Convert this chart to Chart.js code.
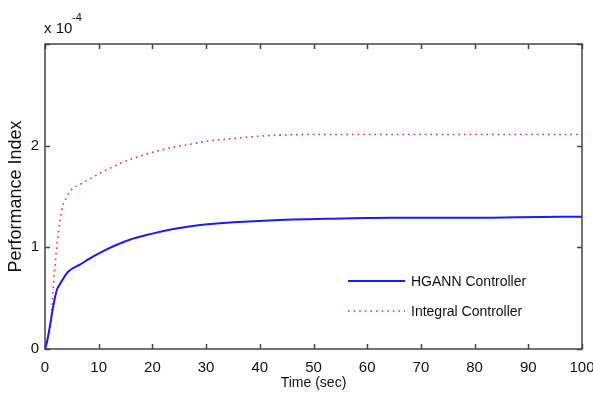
<!DOCTYPE html>
<html>
<head>
<meta charset="utf-8">
<script src="https://cdn.jsdelivr.net/npm/chart.js@4"></script>
<style>
  html, body { margin: 0; padding: 0; background: #fff; }
  #wrap { width: 593px; height: 402px; }
</style>
</head>
<body>
<div id="wrap"><canvas id="perfChart" width="593" height="402"></canvas></div>
<script>
// values are in units of 1e-4 (axis shows "x 10^-4")
const hgannTime = [0, 0.2, 0.9, 1.5, 2.2, 2.8, 4.3, 6.5, 9, 11.5, 13.6, 15.5, 19.6, 23.9, 28.2, 32, 36, 41.7, 52.3, 65, 80, 96, 100];
const hgannValue = [0, 0.03, 0.22, 0.41, 0.58, 0.64, 0.76, 0.83, 0.91, 0.98, 1.03, 1.07, 1.13, 1.18, 1.215, 1.235, 1.25, 1.265, 1.28, 1.29, 1.29, 1.30, 1.30];

const integralTime = [0, 0.3, 1.05, 1.5, 2.0, 2.3, 2.8, 3.3, 3.9, 4.8, 6.9, 8.9, 11, 14.2, 17.3, 20.4, 23.5, 26.6, 29.7, 33, 37, 42, 51.5, 70, 100];
const integralValue = [0, 0.07, 0.25, 0.58, 0.9, 1.05, 1.26, 1.41, 1.48, 1.56, 1.63, 1.69, 1.75, 1.83, 1.89, 1.94, 1.98, 2.01, 2.04, 2.06, 2.08, 2.10, 2.11, 2.11, 2.11];

const xTicks = [0, 10, 20, 30, 40, 50, 60, 70, 80, 90, 100];
const yTicks = [0, 1, 2, 3];
const yLabels = ['0', '1', '2', ''];

const FONT = '"Liberation Sans", Arial, Helvetica, sans-serif';

const toPoints = (xs, ys) => xs.map((x, i) => ({ x: x, y: ys[i] }));

// draws the matlab style box, inward ticks, exponent and legend
const matlabBox = {
    id: 'matlabBox',
    afterDraw(chart) {
        const ctx = chart.ctx;
        const area = chart.chartArea;
        const xs = chart.scales.x;
        const ys = chart.scales.y;
        ctx.save();
        ctx.strokeStyle = '#444';
        ctx.lineWidth = 1.5;
        ctx.strokeRect(area.left, area.top, area.right - area.left, area.bottom - area.top);

        ctx.beginPath();
        const tl = 5;
        xTicks.forEach(v => {
            const px = Math.round(xs.getPixelForValue(v)) + 0.5;
            ctx.moveTo(px, area.bottom); ctx.lineTo(px, area.bottom - tl);
            ctx.moveTo(px, area.top); ctx.lineTo(px, area.top + tl);
        });
        yTicks.forEach(v => {
            const py = Math.round(ys.getPixelForValue(v)) + 0.5;
            ctx.moveTo(area.left, py); ctx.lineTo(area.left + tl, py);
            ctx.moveTo(area.right, py); ctx.lineTo(area.right - tl, py);
        });
        ctx.stroke();

        // exponent label
        ctx.fillStyle = '#111';
        ctx.textBaseline = 'alphabetic';
        ctx.textAlign = 'left';
        ctx.font = '15px ' + FONT;
        ctx.fillText('x 10', area.left - 1, 33);
        ctx.font = '11px ' + FONT;
        ctx.fillText('-4', area.left + 27, 21);

        // legend (inside plot, lower right, no frame)
        const items = chart.data.datasets;
        const lx1 = 348, lx2 = 405, rowY = [281, 311];
        items.forEach((ds, i) => {
            ctx.strokeStyle = ds.borderColor;
            ctx.lineWidth = ds.borderWidth;
            ctx.setLineDash(ds.borderDash || []);
            ctx.beginPath();
            ctx.moveTo(lx1, rowY[i]);
            ctx.lineTo(lx2, rowY[i]);
            ctx.stroke();
            ctx.setLineDash([]);
            ctx.fillStyle = '#111';
            ctx.font = '14px ' + FONT;
            ctx.textBaseline = 'middle';
            ctx.fillText(ds.label, 411, rowY[i] + 1);
        });
        ctx.restore();
    }
};

const chart = new Chart(document.getElementById('perfChart'), {
    type: 'line',
    data: {
        datasets: [
            {
                label: 'HGANN Controller',
                data: toPoints(hgannTime, hgannValue),
                borderColor: '#1a1aff',
                borderWidth: 2,
                pointRadius: 0,
                cubicInterpolationMode: 'monotone',
                fill: false
            },
            {
                label: 'Integral Controller',
                data: toPoints(integralTime, integralValue),
                borderColor: '#ff3030',
                borderWidth: 1.6,
                borderDash: [1.6, 4],
                pointRadius: 0,
                cubicInterpolationMode: 'monotone',
                fill: false
            }
        ]
    },
    options: {
        responsive: false,
        animation: false,
        layout: { padding: { top: 44, right: 0, left: 0, bottom: 0 } },
        plugins: { legend: { display: false }, tooltip: { enabled: false } },
        scales: {
            x: {
                type: 'linear',
                min: 0,
                max: 100,
                afterBuildTicks: s => { s.ticks = xTicks.map(v => ({ value: v })); },
                afterFit: s => { s.height = 53; s.paddingRight = 11; s.paddingLeft = 0; },
                grid: { display: false, drawTicks: false },
                border: { display: false },
                ticks: { color: '#111', padding: 10, maxRotation: 0, font: { family: FONT, size: 15 } },
                title: {
                    display: true,
                    text: 'Time (sec)',
                    color: '#111',
                    padding: { top: 0, bottom: 10 },
                    font: { family: FONT, size: 14 }
                }
            },
            y: {
                type: 'linear',
                min: 0,
                max: 3,
                afterBuildTicks: s => { s.ticks = yTicks.map(v => ({ value: v })); },
                afterFit: s => { s.width = 45; },
                grid: { display: false, drawTicks: false },
                border: { display: false },
                ticks: {
                    color: '#111',
                    padding: 6,
                    font: { family: FONT, size: 15 },
                    callback: (v) => yLabels[yTicks.indexOf(v)] ?? ''
                },
                title: {
                    display: true,
                    text: 'Performance Index',
                    color: '#111',
                    padding: { top: 5, bottom: 0 },
                    font: { family: FONT, size: 18 }
                }
            }
        }
    },
    plugins: [matlabBox]
});
</script>
</body>
</html>
